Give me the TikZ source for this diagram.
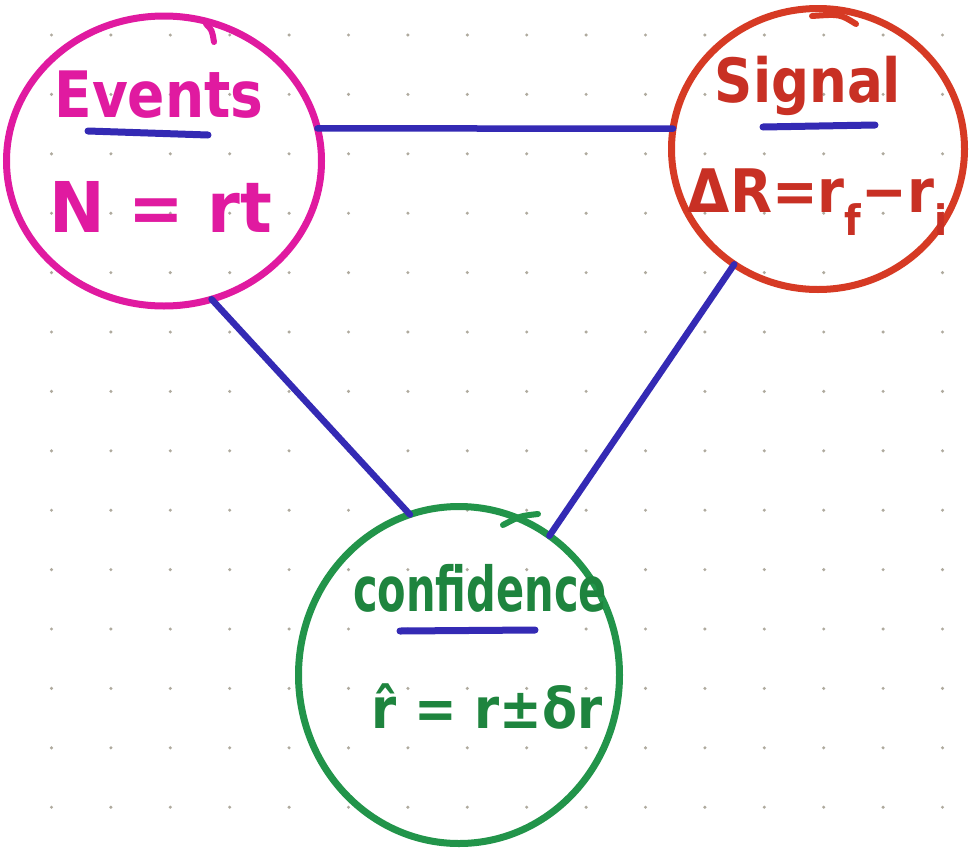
\documentclass[tikz,border=0pt]{standalone}
\usepackage{fontspec}
\setmainfont{DejaVu Sans}
\usetikzlibrary{shapes.geometric}
\definecolor{evc}{RGB}{224,26,160}
\definecolor{sigc}{RGB}{214,58,36}
\definecolor{sigt}{RGB}{200,48,36}
\definecolor{conc}{RGB}{34,148,74}
\definecolor{cont}{RGB}{30,132,62}
\definecolor{penblue}{RGB}{52,42,180}
\definecolor{dotc}{RGB}{175,170,158}
\tikzset{
  bubble/.style={ellipse, line width=7pt, inner sep=0pt, outer sep=0pt},
  conn/.style={draw=penblue, line width=6.5pt, line cap=round},
  uline/.style={draw=penblue, line width=7pt, line cap=round},
  tail/.style={line width=6pt, line cap=round},
  lbl/.style={anchor=base, inner sep=0pt}
}
\begin{document}
\begin{tikzpicture}[x=1pt,y=-1pt]
\useasboundingbox[fill=white] (0,0) rectangle (972,849);
% dot grid
\foreach \i in {0,...,15}{
  \foreach \j in {0,...,13}{
    \fill[dotc] (51.5+59.4*\i, 35+59.4*\j) circle (1.7pt);
  }
}
% circles
\node[bubble, draw=evc, minimum width=315pt, minimum height=290pt] (ev) at (164,161) {};
\node[bubble, draw=sigc, minimum width=293pt, minimum height=281pt] (sig) at (818,149) {};
\node[bubble, draw=conc, minimum width=321pt, minimum height=337pt] (con) at (459,675) {};
% pen tails
\draw[tail, evc] (206,24) .. controls (212,30) .. (214,42);
\draw[tail, sigc] (812,16) .. controls (840,14) .. (856,24);
\draw[tail, conc] (503,525) .. controls (520,516) .. (538,514);
% connectors
\draw[conn] (ev.12.5) -- (sig.172.2);
\draw[conn] (ev.-71) -- (con.107.5);
\draw[conn] (sig.234.2) -- (con.57.9);
% labels
\node[lbl, text=evc, font=\bfseries\fontsize{64}{64}\selectfont] (evt) at (159,117) {\scalebox{0.86}[1]{Events}};
\node[lbl, text=evc, font=\bfseries\fontsize{70}{70}\selectfont] (evf) at (161,232) {\scalebox{0.95}[1]{N = rt}};
\node[lbl, text=sigt, font=\bfseries\fontsize{61}{61}\selectfont] (sgt) at (808,102) {\scalebox{0.87}[1]{Signal}};
\node[lbl, text=sigt, font=\bfseries\fontsize{60}{60}\selectfont] (sgf) at (818,212) {\scalebox{0.91}[1]{ΔR=r\textsubscript{f}−r\textsubscript{i}}};
\node[lbl, text=cont, font=\bfseries\fontsize{62}{62}\selectfont] (cnt) at (480,611) {\scalebox{0.67}[1]{confidence}};
\node[lbl, text=cont, font=\bfseries\fontsize{56}{56}\selectfont] (cnf) at (487,728) {\scalebox{0.91}[1]{r̂ = r±δr}};
% underlines
\draw[uline] (88,131) -- (208,135);
\draw[uline] (763,127) -- (875,125);
\draw[uline] (400,631) -- (535,630);
\end{tikzpicture}
\end{document}
